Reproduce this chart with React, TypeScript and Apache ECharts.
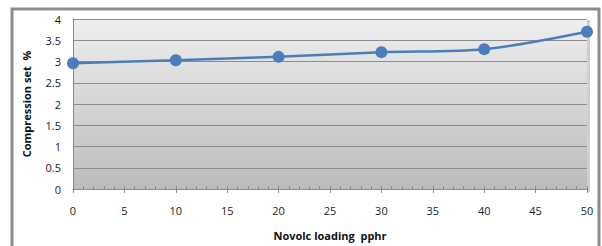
import React, { useEffect, useRef } from "react";
import * as echarts from "echarts";

const loading = [0, 10, 20, 30, 40, 50];
const compressionSet = [2.96, 3.03, 3.11, 3.22, 3.29, 3.7];
const xTitle = "Novolc loading  pphr";
const yTitle = "Compression set  %";

const GRID = { left: 73, top: 19, right: 15, bottom: 57 };

export default function App() {
  const ref = useRef<HTMLDivElement>(null);
  useEffect(() => {
    const chart = echarts.init(ref.current!, null, { renderer: "svg" });
    const font = "'Open Sans', 'Noto Sans', sans-serif";
    const plotRight = 602 - GRID.right;
    chart.setOption({
      animation: false,
      backgroundColor: "#ffffff",
      textStyle: { fontFamily: font },
      grid: {
        left: GRID.left,
        top: GRID.top,
        right: GRID.right,
        bottom: GRID.bottom,
        containLabel: false,
        outerBoundsMode: "none",
        show: true,
        borderWidth: 0,
        backgroundColor: new echarts.graphic.LinearGradient(0, 0, 0, 1, [
          { offset: 0, color: "#eeeeee" },
          { offset: 1, color: "#bcbcbc" },
        ]),
      },
      graphic: [
        {
          type: "rect",
          shape: { x: 12, y: 9, width: 587, height: 260 },
          style: { fill: "none", stroke: "#8c8c8c", lineWidth: 3 },
          silent: true,
        },
        {
          type: "line",
          shape: { x1: GRID.left, y1: GRID.top + 0.5, x2: plotRight, y2: GRID.top + 0.5 },
          style: { stroke: "#000000", lineWidth: 1 },
          silent: true,
        },
        {
          type: "rect",
          shape: { x: plotRight, y: GRID.top + 1, width: 3, height: 246 - GRID.bottom - GRID.top + 2 },
          style: { fill: "#cfcfcf" },
          silent: true,
        },
      ],
      xAxis: [
        {
          type: "value",
          min: 0,
          max: 50,
          interval: 5,
          name: xTitle,
          nameLocation: "middle",
          nameGap: 41,
          nameTextStyle: { fontWeight: "bold", fontSize: 11, color: "#111" },
          axisLine: { show: true, lineStyle: { color: "#8a8a8a", width: 1 } },
          axisTick: { show: true, inside: true, length: 3, lineStyle: { color: "#8a8a8a" } },
          minorTick: { show: true, splitNumber: 5, length: 3, lineStyle: { color: "#8a8a8a" } },
          axisLabel: { color: "#222", fontSize: 11, margin: 16 },
          splitLine: { show: false },
        },
        {
          type: "value",
          min: 0,
          max: 50,
          interval: 5,
          position: "bottom",
          axisLine: { show: false },
          axisTick: { show: true, inside: false, length: 4, lineStyle: { color: "#8a8a8a" } },
          axisLabel: { show: false },
          splitLine: { show: false },
        },
      ],
      yAxis: {
        type: "value",
        min: 0,
        max: 4,
        interval: 0.5,
        name: yTitle,
        nameLocation: "middle",
        nameGap: 41,
        nameTextStyle: { fontWeight: "bold", fontSize: 11, color: "#111" },
        axisLine: { show: true, lineStyle: { color: "#8a8a8a", width: 1 } },
        axisTick: { show: false },
        axisLabel: { color: "#222", fontSize: 11, margin: 12 },
        splitLine: { show: true, lineStyle: { color: "#8c8c8c", width: 1 } },
      },
      series: [
        {
          type: "line",
          data: loading.map((x, i) => [x, compressionSet[i]]),
          smooth: 0.3,
          symbol: "circle",
          symbolSize: 12,
          lineStyle: { color: "#4a7ebb", width: 2.5 },
          itemStyle: { color: "#4a7ebb" },
        },
      ],
    });
    return () => chart.dispose();
  }, []);
  return (
    <div
      ref={ref}
      style={{ position: "fixed", left: 0, top: 0, width: 602, height: 246 }}
    />
  );
}
